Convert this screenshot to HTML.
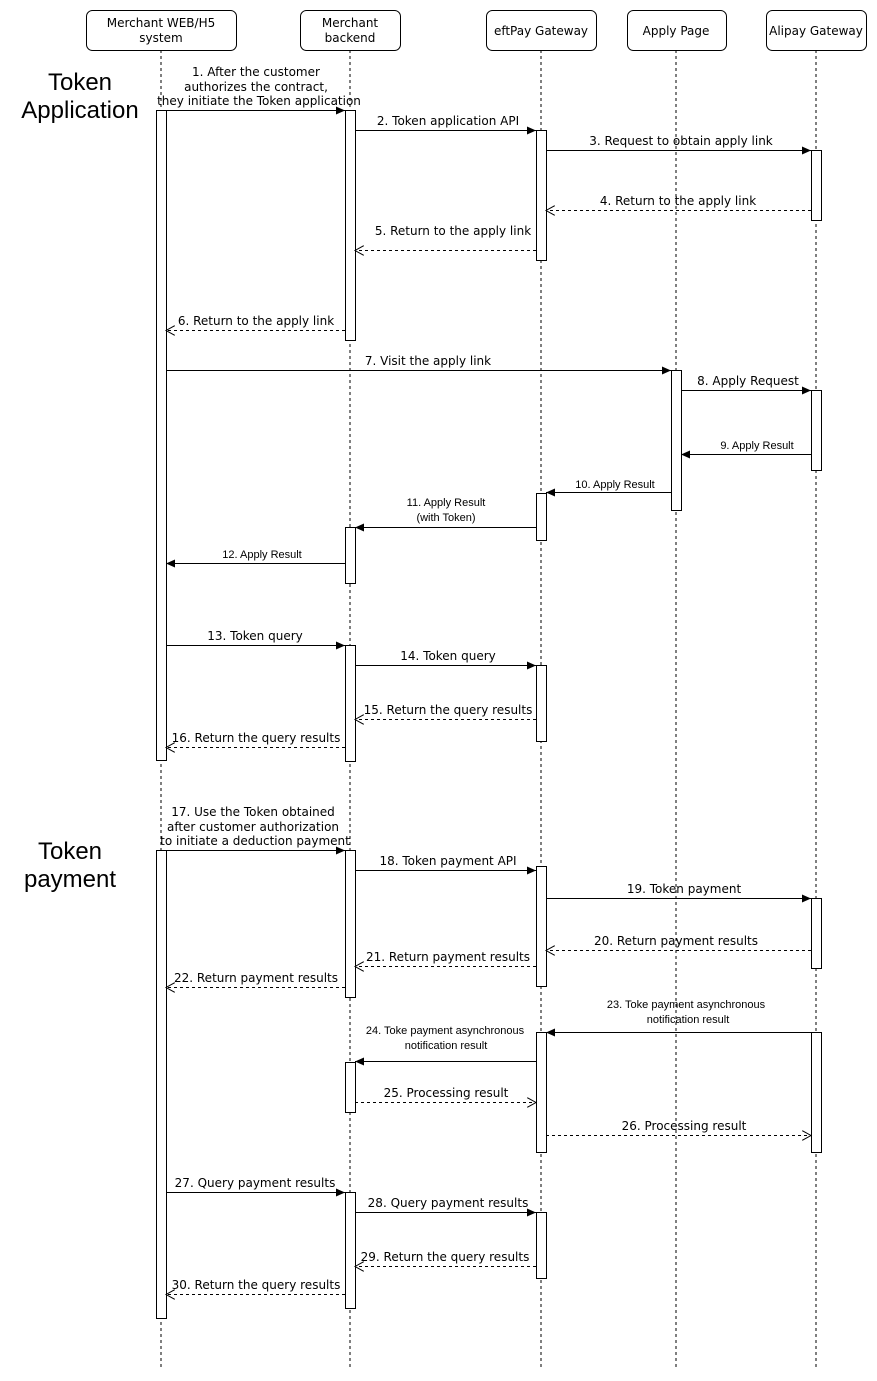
<!DOCTYPE html>
<html><head><meta charset="utf-8"><style>body{margin:0;background:#fff}svg{display:block}
.m{font-family:"DejaVu Sans","Liberation Sans",sans-serif;font-size:12px;fill:#000}
.s{font-family:"Liberation Sans",sans-serif;font-size:11px;fill:#000}
.b{font-family:"Liberation Sans",sans-serif;font-size:24px;fill:#000}
</style></head><body>
<svg width="877" height="1381" viewBox="0 0 877 1381" xmlns="http://www.w3.org/2000/svg">
<defs>
<marker id="f" markerWidth="10" markerHeight="8" refX="9" refY="4" orient="auto" markerUnits="userSpaceOnUse"><path d="M0,0 L9,4 L0,8 Z" fill="#000"/></marker>
<marker id="o" markerWidth="10" markerHeight="10" refX="9" refY="5" orient="auto" markerUnits="userSpaceOnUse"><path d="M0,0 L9,5 L0,10" fill="none" stroke="#000"/></marker>
</defs>
<g stroke="#000" stroke-dasharray="3,3" fill="none">
<line x1="161" y1="50" x2="161" y2="1367"/><line x1="350" y1="50" x2="350" y2="1367"/><line x1="541" y1="50" x2="541" y2="1367"/><line x1="676" y1="50" x2="676" y2="1367"/><line x1="816" y1="50" x2="816" y2="1367"/>
</g>
<g stroke="#000" fill="#fff">
<rect x="86.5" y="10.5" width="150" height="40" rx="6"/><rect x="300.5" y="10.5" width="100" height="40" rx="6"/><rect x="486.5" y="10.5" width="110" height="40" rx="6"/><rect x="627.5" y="10.5" width="99" height="40" rx="6"/><rect x="766.5" y="10.5" width="100" height="40" rx="6"/>
</g>
<g class="m" text-anchor="middle">
<text x="161" y="27">Merchant WEB/H5</text><text x="161" y="42">system</text>
<text x="350" y="27">Merchant</text><text x="350" y="42">backend</text>
<text x="541" y="35">eftPay Gateway</text><text x="676" y="35">Apply Page</text><text x="816" y="35">Alipay Gateway</text>
</g>
<g class="b" text-anchor="middle">
<text x="80" y="90">Token</text><text x="80" y="118">Application</text>
<text x="70" y="859">Token</text><text x="70" y="887">payment</text>
</g>
<g stroke="#000" fill="#fff">
<rect x="156.5" y="110.5" width="10" height="650"/><rect x="156.5" y="850.5" width="10" height="468"/>
<rect x="345.5" y="110.5" width="10" height="230"/><rect x="345.5" y="527.5" width="10" height="56"/><rect x="345.5" y="645.5" width="10" height="116"/><rect x="345.5" y="850.5" width="10" height="147"/><rect x="345.5" y="1062.5" width="10" height="50"/><rect x="345.5" y="1192.5" width="10" height="116"/>
<rect x="536.5" y="130.5" width="10" height="130"/><rect x="536.5" y="493.5" width="10" height="47"/><rect x="536.5" y="665.5" width="10" height="76"/><rect x="536.5" y="866.5" width="10" height="120"/><rect x="536.5" y="1032.5" width="10" height="120"/><rect x="536.5" y="1212.5" width="10" height="66"/>
<rect x="671.5" y="370.5" width="10" height="140"/>
<rect x="811.5" y="150.5" width="10" height="70"/><rect x="811.5" y="390.5" width="10" height="80"/><rect x="811.5" y="898.5" width="10" height="70"/><rect x="811.5" y="1032.5" width="10" height="120"/>
</g>
<g stroke="#000" fill="none">
<line x1="166" y1="110.5" x2="345" y2="110.5" marker-end="url(#f)"/>
<line x1="355" y1="130.5" x2="536" y2="130.5" marker-end="url(#f)"/>
<line x1="546" y1="150.5" x2="811" y2="150.5" marker-end="url(#f)"/>
<line x1="811" y1="210.5" x2="546" y2="210.5" stroke-dasharray="3,3" marker-end="url(#o)"/>
<line x1="536" y1="250.5" x2="355" y2="250.5" stroke-dasharray="3,3" marker-end="url(#o)"/>
<line x1="345" y1="330.5" x2="166" y2="330.5" stroke-dasharray="3,3" marker-end="url(#o)"/>
<line x1="166" y1="370.5" x2="671" y2="370.5" marker-end="url(#f)"/>
<line x1="681" y1="390.5" x2="811" y2="390.5" marker-end="url(#f)"/>
<line x1="811" y1="454.5" x2="681" y2="454.5" marker-end="url(#f)"/>
<line x1="671" y1="492.5" x2="546" y2="492.5" marker-end="url(#f)"/>
<line x1="536" y1="527.5" x2="355" y2="527.5" marker-end="url(#f)"/>
<line x1="345" y1="563.5" x2="166" y2="563.5" marker-end="url(#f)"/>
<line x1="166" y1="645.5" x2="345" y2="645.5" marker-end="url(#f)"/>
<line x1="355" y1="665.5" x2="536" y2="665.5" marker-end="url(#f)"/>
<line x1="536" y1="719.5" x2="355" y2="719.5" stroke-dasharray="3,3" marker-end="url(#o)"/>
<line x1="345" y1="747.5" x2="166" y2="747.5" stroke-dasharray="3,3" marker-end="url(#o)"/>
<line x1="166" y1="850.5" x2="345" y2="850.5" marker-end="url(#f)"/>
<line x1="355" y1="870.5" x2="536" y2="870.5" marker-end="url(#f)"/>
<line x1="546" y1="898.5" x2="811" y2="898.5" marker-end="url(#f)"/>
<line x1="811" y1="950.5" x2="546" y2="950.5" stroke-dasharray="3,3" marker-end="url(#o)"/>
<line x1="536" y1="966.5" x2="355" y2="966.5" stroke-dasharray="3,3" marker-end="url(#o)"/>
<line x1="345" y1="987.5" x2="166" y2="987.5" stroke-dasharray="3,3" marker-end="url(#o)"/>
<line x1="811" y1="1032.5" x2="546" y2="1032.5" marker-end="url(#f)"/>
<line x1="536" y1="1061.5" x2="355" y2="1061.5" marker-end="url(#f)"/>
<line x1="355" y1="1102.5" x2="536" y2="1102.5" stroke-dasharray="3,3" marker-end="url(#o)"/>
<line x1="546" y1="1135.5" x2="811" y2="1135.5" stroke-dasharray="3,3" marker-end="url(#o)"/>
<line x1="166" y1="1192.5" x2="345" y2="1192.5" marker-end="url(#f)"/>
<line x1="355" y1="1212.5" x2="536" y2="1212.5" marker-end="url(#f)"/>
<line x1="536" y1="1266.5" x2="355" y2="1266.5" stroke-dasharray="3,3" marker-end="url(#o)"/>
<line x1="345" y1="1294.5" x2="166" y2="1294.5" stroke-dasharray="3,3" marker-end="url(#o)"/>
</g>
<g class="m" text-anchor="middle">
<text x="256" y="76">1. After the customer</text><text x="256" y="91">authorizes the contract,</text><text x="259" y="105">they initiate the Token application</text>
<text x="448" y="125">2. Token application API</text>
<text x="681" y="145">3. Request to obtain apply link</text>
<text x="678" y="205">4. Return to the apply link</text>
<text x="453" y="235">5. Return to the apply link</text>
<text x="256" y="325">6. Return to the apply link</text>
<text x="428" y="365">7. Visit the apply link</text>
<text x="748" y="385">8. Apply Request</text>
<text x="255" y="640">13. Token query</text>
<text x="448" y="660">14. Token query</text>
<text x="448" y="714">15. Return the query results</text>
<text x="256" y="742">16. Return the query results</text>
<text x="253" y="816">17. Use the Token obtained</text><text x="253" y="831">after customer authorization</text><text x="255" y="845">to initiate a deduction payment</text>
<text x="448" y="865">18. Token payment API</text>
<text x="684" y="893">19. Token payment</text>
<text x="676" y="945">20. Return payment results</text>
<text x="448" y="961">21. Return payment results</text>
<text x="256" y="982">22. Return payment results</text>
<text x="446" y="1097">25. Processing result</text>
<text x="684" y="1130">26. Processing result</text>
<text x="255" y="1187">27. Query payment results</text>
<text x="448" y="1207">28. Query payment results</text>
<text x="445" y="1261">29. Return the query results</text>
<text x="256" y="1289">30. Return the query results</text>
</g>
<g class="s" text-anchor="middle">
<text x="757" y="449">9. Apply Result</text>
<text x="615" y="488">10. Apply Result</text>
<text x="446" y="506">11. Apply Result</text><text x="446" y="521">(with Token)</text>
<text x="262" y="558">12. Apply Result</text>
<text x="686" y="1008">23. Toke payment asynchronous</text><text x="688" y="1023">notification result</text>
<text x="445" y="1034">24. Toke payment asynchronous</text><text x="446" y="1049">notification result</text>
</g>
</svg>
</body></html>
